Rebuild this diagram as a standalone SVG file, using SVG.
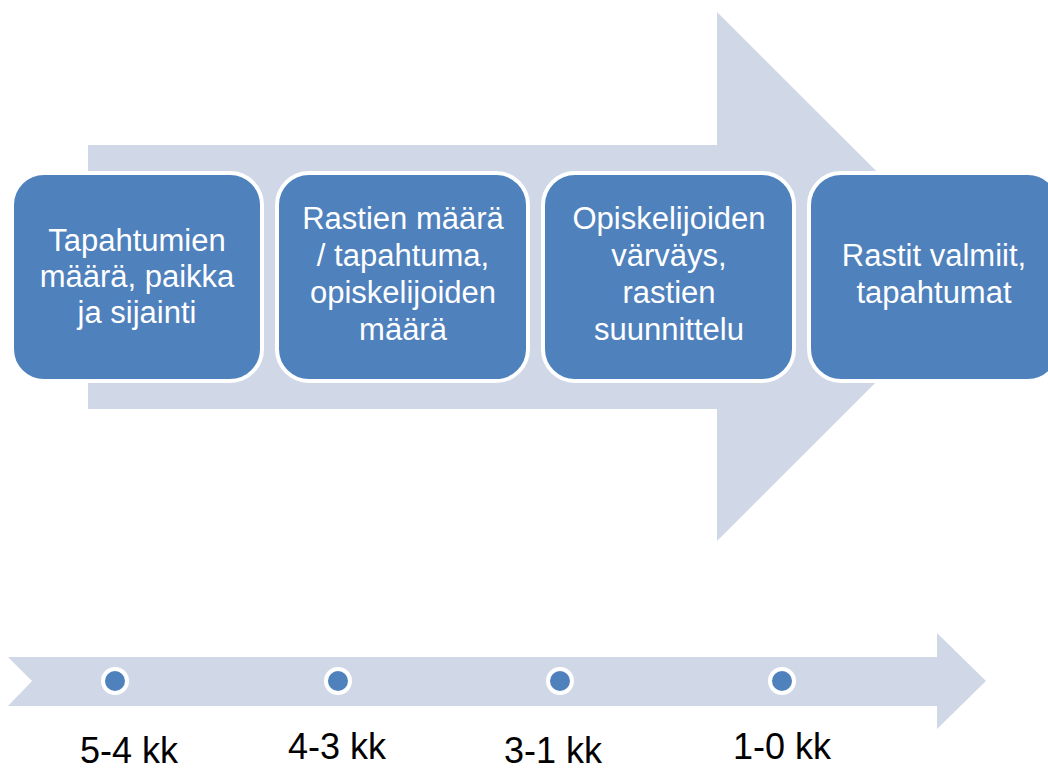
<svg xmlns="http://www.w3.org/2000/svg" width="1048" height="771" viewBox="0 0 1048 771">
<style>
.arrow{fill:#D0D8E8}
.box{fill:#4F81BD;stroke:#FFFFFF;stroke-width:4}
.bt{font-family:"Liberation Sans",Arial,sans-serif;font-size:31px;fill:#FFFFFF;text-anchor:middle}
.dot{fill:#4F81BD;stroke:#FFFFFF;stroke-width:4}
.lt{font-family:"Liberation Sans",Arial,sans-serif;font-size:36px;fill:#000000;text-anchor:middle}
</style>
<rect width="1048" height="771" fill="#FFFFFF"/>
<g id="connectors">
<polygon id="big-arrow" class="arrow" points="88,145 717,145 717,12 982,276.5 717,541 717,409 88,409"/>
<polygon id="timeline-arrow" class="arrow" points="8,657 937,657 937,633 986,681 937,729 937,706 8,706 32,681"/>
</g>
<g id="node1">
<rect class="box" x="12" y="173" width="250" height="208" rx="32" ry="32"/>
<text class="bt" x="137" y="251">Tapahtumien</text>
<text class="bt" x="137" y="287">määrä, paikka</text>
<text class="bt" x="137" y="323">ja sijainti</text>
</g>
<g id="node2">
<rect class="box" x="277" y="173" width="251" height="208" rx="32" ry="32"/>
<text class="bt" x="403" y="229">Rastien määrä</text>
<text class="bt" x="403" y="266">/ tapahtuma,</text>
<text class="bt" x="403" y="303">opiskelijoiden</text>
<text class="bt" x="403" y="340">määrä</text>
</g>
<g id="node3">
<rect class="box" x="543" y="173" width="251" height="208" rx="32" ry="32"/>
<text class="bt" x="669" y="229">Opiskelijoiden</text>
<text class="bt" x="669" y="266">värväys,</text>
<text class="bt" x="669" y="303">rastien</text>
<text class="bt" x="669" y="340">suunnittelu</text>
</g>
<g id="node4">
<rect class="box" x="809" y="173" width="251" height="208" rx="32" ry="32"/>
<text class="bt" x="934" y="266">Rastit valmiit,</text>
<text class="bt" x="934" y="303">tapahtumat</text>
</g>
<g id="t1">
<circle class="dot" cx="115" cy="681" r="12"/>
<text class="lt" x="129" y="763">5-4 kk</text>
</g>
<g id="t2">
<circle class="dot" cx="338" cy="681" r="12"/>
<text class="lt" x="337" y="759">4-3 kk</text>
</g>
<g id="t3">
<circle class="dot" cx="560" cy="681" r="12"/>
<text class="lt" x="553" y="763">3-1 kk</text>
</g>
<g id="t4">
<circle class="dot" cx="782" cy="681" r="12"/>
<text class="lt" x="782" y="759">1-0 kk</text>
</g>
</svg>
